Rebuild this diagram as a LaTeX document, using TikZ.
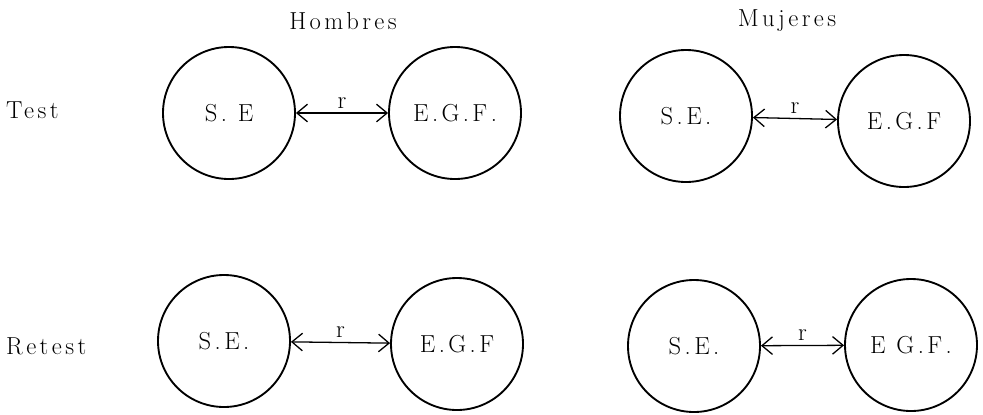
\documentclass[tikz,border=0pt]{standalone}
\usepackage{fontspec}
\usetikzlibrary{arrows.meta}

% wide typewriter-like lettering
\newfontfamily\typeface{Latin Modern Roman}[LetterSpace=14]
\newcommand\spaced{\typeface\fontsize{21}{24}\selectfont}

\tikzset{
  ring/.style={draw, circle, line width=1.6pt, minimum size=3.96cm, inner sep=0pt, font=\spaced},
  link/.style={{Straight Barb[length=9pt,width=15pt]}-{Straight Barb[length=9pt,width=15pt]}, line width=1.1pt},
  tag/.style={font=\spaced}
}

\begin{document}
\begin{tikzpicture}[x=0.03cm, y=-0.03cm]
  \useasboundingbox (0,0) rectangle (983,414);

  % --- column and row headings ---
  \node[tag] (hombres) at (343,21) {Hombres};
  \node[tag] (mujeres) at (787,21) {Mujeres};
  \node[tag, anchor=west] (test) at (2,110) {Test};
  \node[tag, anchor=west] (retest) at (2,346) {Retest};

  % --- Test row ---
  \node[ring] (hse1) at (229,113) {S. E};
  \node[ring] (hegf1) at (455,113) {E.G.F.};
  \draw[link] (hse1) -- (hegf1) node[midway, above, tag] {r};

  \node[ring] (mse1) at (686,116) {S.E.};
  \node[ring] (megf1) at (904,121) {E.G.F};
  \draw[link] (mse1) -- (megf1) node[midway, above, tag] {r};

  % --- Retest row ---
  \node[ring] (hse2) at (224,341) {S.E.};
  \node[ring] (hegf2) at (457,344) {E.G.F};
  \draw[link] (hse2) -- (hegf2) node[midway, above, tag] {r};

  \node[ring] (mse2) at (694,346) {S.E.};
  \node[ring] (megf2) at (911,345) {E G.F.};
  \draw[link] (mse2) -- (megf2) node[midway, above, tag] {r};
\end{tikzpicture}
\end{document}
